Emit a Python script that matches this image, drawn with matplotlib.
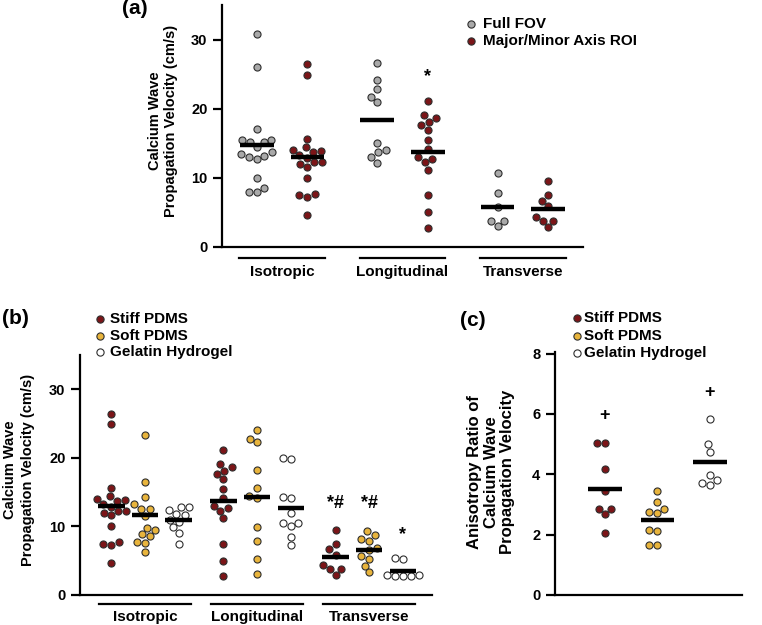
import numpy as np
import matplotlib
matplotlib.use('Agg')
import matplotlib.pyplot as plt
from matplotlib.transforms import blended_transform_factory

plt.rcParams['font.family'] = ['Liberation Sans', 'DejaVu Sans']
plt.rcParams['font.weight'] = 'bold'

# ---------------- data ----------------
categories = ['Isotropic', 'Longitudinal', 'Transverse']

# panel (a)
fov_iso = [30.8, 26.0, 17.0, 15.5, 15.2, 15.2, 15.5, 14.5, 13.7, 13.5, 13.2, 13.0, 12.75, 10.0, 8.5, 7.9, 7.9]
fov_long = [26.6, 24.2, 22.9, 21.7, 20.9, 15.0, 13.7, 14.1, 13.0, 12.2]
fov_trans = [10.7, 7.8, 5.75, 3.8, 3.7, 3.0]
stiff_iso = [26.4, 24.9, 15.6, 14.0, 13.9, 13.7, 14.4, 13.3, 12.9, 12.0, 11.6, 12.3, 12.3, 10.0, 7.5, 7.7, 7.3, 4.6]
stiff_long = [21.1, 19.1, 18.1, 18.6, 17.6, 16.9, 15.5, 14.2, 12.7, 13.0, 12.3, 11.2, 7.5, 5.0, 2.7]
stiff_trans = [9.5, 7.5, 6.7, 5.9, 4.4, 3.8, 3.8, 2.9]

# panel (b)
soft_iso = [23.3, 16.5, 14.3, 13.3, 12.5, 12.5, 11.5, 9.5, 9.8, 8.9, 8.6, 7.8, 7.6, 6.3]
soft_long = [24.05, 22.3, 22.8, 18.2, 15.6, 14.2, 14.5, 9.9, 7.9, 5.3, 3.0]
soft_trans = [9.3, 8.8, 8.1, 7.9, 6.8, 6.5, 5.7, 5.3, 4.3, 3.3]
gel_iso = [12.8, 12.9, 12.4, 11.6, 11.8, 11.0, 10.7, 9.9, 9.0, 7.4]
gel_long = [20.0, 19.9, 14.1, 14.3, 12.0, 10.45, 10.5, 10.1, 8.5, 7.3]
gel_trans = [5.4, 5.2, 2.9, 2.7, 2.7, 2.9, 2.8]

# panel (c)
stiff_ratio = [5.02, 5.02, 4.18, 3.45, 2.86, 2.85, 2.68, 2.05]
soft_ratio = [3.43, 3.07, 2.76, 2.85, 2.71, 2.16, 2.13, 1.65, 1.66]
gel_ratio = [5.84, 5.0, 4.74, 3.99, 3.8, 3.71, 3.65]

# annotations (value where the symbol sits)
ann_a = [('*', 'Longitudinal', 1, 24.6)]
ann_b = [('*#', 'Transverse', 0, 13.4), ('*#', 'Transverse', 1, 13.4), ('*', 'Transverse', 2, 8.75)]
ann_c = [('+', 0, 5.95), ('+', 2, 6.7)]

legend_a = ['Full FOV', 'Major/Minor Axis ROI']
legend_bc = ['Stiff PDMS', 'Soft PDMS', 'Gelatin Hydrogel']

GREY = '#a9a9a9'
RED = '#7b1518'
GOLD = '#e8b43c'
WHITE = '#ffffff'
EDGE = '#2e2e2e'

W, H = 762, 625
fig = plt.figure(figsize=(W / 100, H / 100), dpi=100)


def px_axes(l, r, t, b):
    return fig.add_axes([l / W, 1 - b / H, (r - l) / W, (b - t) / H])


def swarm(ax, xc, vals, d):
    vals = np.asarray(vals, float)
    pts = ax.transData.transform(np.column_stack([np.full(len(vals), xc), vals]))
    ys = pts[:, 1]
    order = np.argsort(ys)
    placed = []
    offs = np.zeros(len(vals))
    for i in order:
        y = ys[i]
        near = [(xo, yo) for xo, yo in placed if abs(yo - y) < d]
        cands = [0.0]
        for xo, yo in near:
            dx = np.sqrt(d * d - (yo - y) ** 2)
            cands += [xo + dx, xo - dx]
        cands = sorted(cands, key=lambda c: (abs(c), c))
        for c in cands:
            if all((c - xo) ** 2 + (y - yo) ** 2 >= d * d - 1e-6 for xo, yo in near):
                offs[i] = c
                break
        placed.append((offs[i], y))
    data = ax.transData.inverted().transform(np.column_stack([pts[:, 0] + offs, ys]))
    return data[:, 0]


def style(ax, ylim, yticks):
    ax.set_ylim(*ylim)
    ax.set_yticks(yticks)
    ax.set_xticks([])
    for s in ['top', 'right']:
        ax.spines[s].set_visible(False)
    for s in ['left', 'bottom']:
        ax.spines[s].set_linewidth(1.6)
    ax.tick_params(axis='y', length=6.5, width=1.6, labelsize=10.5, pad=4)
    for lab in ax.get_yticklabels():
        lab.set_fontweight('bold')


def group(ax, xc, vals, color, half, d=8.2, s=26):
    xs = swarm(ax, xc, vals, d)
    ax.scatter(xs, vals, s=s, c=color, edgecolors=EDGE, linewidths=0.8, zorder=3, clip_on=False)
    m = np.mean(vals)
    ax.plot([xc - half, xc + half], [m, m], color='black', lw=3.2, solid_capstyle='butt', zorder=4)


def cat_labels(ax, hw, yline, ytext, size):
    tr = blended_transform_factory(ax.transData, ax.transAxes)
    for i, c in enumerate(categories):
        xc = i + 1
        ax.plot([xc - hw, xc + hw], [yline, yline], transform=tr, clip_on=False, color='black', lw=1.6)
        ax.text(xc, ytext, c, transform=tr, ha='center', va='center', fontsize=size, fontweight='bold')


def legend(labels, colors, xm, xt, ys):
    for lab, col, y in zip(labels, colors, ys):
        fig.lines.append(plt.Line2D([xm / W], [1 - y / H], marker='o', ms=5.2, mfc=col, mec=EDGE,
                                    mew=0.8, ls='none', transform=fig.transFigure))
        fig.text(xt / W, 1 - y / H, lab, ha='left', va='center', fontsize=11, fontweight='bold')


# ---------------- panel (a) ----------------
axa = px_axes(222, 583, 5, 247)
axa.set_xlim(0.5, 3.5)
style(axa, (0, 35), [0, 10, 20, 30])
off_a = 0.21
for i, (f, r) in enumerate([(fov_iso, stiff_iso), (fov_long, stiff_long), (fov_trans, stiff_trans)]):
    group(axa, i + 1 - off_a, f, GREY, 0.14)
    group(axa, i + 1 + off_a, r, RED, 0.14)
for sym, cat, k, y in ann_a:
    axa.text(categories.index(cat) + 1 + (off_a if k else -off_a), y, sym, ha='center', va='center',
             fontsize=13, fontweight='bold')
cat_labels(axa, 0.355, -0.047, -0.105, 11)
fig.text(163 / W, 1 - 121 / H, 'Calcium Wave\nPropagation Velocity (cm/s)', rotation=90,
         ha='center', va='center', fontsize=10.5, fontweight='bold', linespacing=1.25)
fig.text(148 / W, 1 - 8 / H, '(a)', ha='right', va='center', fontsize=15, fontweight='bold')
legend(legend_a, [GREY, RED], 471, 483, [24, 41])

# ---------------- panel (b) ----------------
axb = px_axes(80, 432, 355, 595)
axb.set_xlim(0.42, 3.56)
style(axb, (0, 35), [0, 10, 20, 30])
off_b = 0.30
sets_b = [(stiff_iso, soft_iso, gel_iso), (stiff_long, soft_long, gel_long), (stiff_trans, soft_trans, gel_trans)]
for i, trio in enumerate(sets_b):
    for k, (vals, col) in enumerate(zip(trio, [RED, GOLD, WHITE])):
        group(axb, i + 1 + (k - 1) * off_b, vals, col, 0.118)
for sym, cat, k, y in ann_b:
    axb.text(categories.index(cat) + 1 + (k - 1) * off_b, y, sym, ha='center', va='center',
             fontsize=13, fontweight='bold')
cat_labels(axb, 0.41, -0.037, -0.092, 11)
fig.text(19 / W, 1 - 470 / H, 'Calcium Wave\nPropagation Velocity (cm/s)', rotation=90,
         ha='center', va='center', fontsize=10.5, fontweight='bold', linespacing=1.3)
fig.text(2 / W, 1 - 318 / H, '(b)', ha='left', va='center', fontsize=15, fontweight='bold')
legend(legend_bc, [RED, GOLD, WHITE], 100, 110, [319, 336, 352])

# ---------------- panel (c) ----------------
axc = px_axes(555, 742, 352, 595)
axc.set_xlim(0.05, 3.61)
style(axc, (0, 8.05), [0, 2, 4, 6, 8])
for k, (vals, col) in enumerate(zip([stiff_ratio, soft_ratio, gel_ratio], [RED, GOLD, WHITE])):
    group(axc, k + 1, vals, col, 0.32)
for sym, k, y in ann_c:
    axc.text(k + 1, y, sym, ha='center', va='center', fontsize=13, fontweight='bold')
fig.text(491 / W, 1 - 472 / H, 'Anisotropy Ratio of\nCalcium Wave\nPropagation Velocity', rotation=90,
         ha='center', va='center', fontsize=12, fontweight='bold', linespacing=1.1)
fig.text(486 / W, 1 - 320 / H, '(c)', ha='right', va='center', fontsize=15, fontweight='bold')
legend(legend_bc, [RED, GOLD, WHITE], 577, 584, [318, 336, 353])

fig.savefig('out.png', dpi=100)
